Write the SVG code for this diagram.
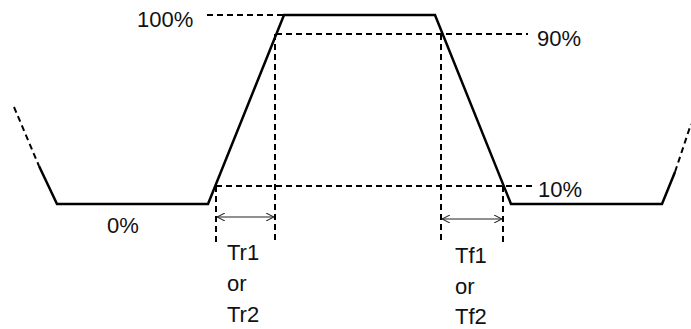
<svg xmlns="http://www.w3.org/2000/svg" width="691" height="329" viewBox="0 0 691 329">
<defs>
<style>
.w{fill:none;stroke:#000;stroke-width:2.5;stroke-linejoin:miter}
.d{fill:none;stroke:#000;stroke-width:2;stroke-dasharray:6 4}
.a{fill:none;stroke:#222;stroke-width:1.2}
text{font-family:"Liberation Sans",Arial,sans-serif;font-size:22px;fill:#111}
</style>
<marker id="ah" viewBox="0 0 10 10" refX="10" refY="5" markerWidth="8" markerHeight="8" markerUnits="userSpaceOnUse" orient="auto-start-reverse">
<path d="M0,0 L10,5 L0,10" fill="none" stroke="#222" stroke-width="1.3"/>
</marker>
</defs>
<rect width="691" height="329" fill="#fff"/>
<g id="waveform">
<path class="d" d="M14,107 L39,166"/>
<path class="w" d="M39,166 L57,204 L208,204 L284,15 L435,15 L511,204 L662,204 L675,172"/>
<path class="d" d="M675,172 L691,124"/>
</g>
<g id="connectors">
<path class="d" d="M207,15 H284"/>
<path class="d" d="M276,34 H528"/>
<path class="d" d="M216,186 H535"/>
<path class="d" d="M216,186 V244"/>
<path class="d" d="M275,34 V244"/>
<path class="d" d="M441,34 V244"/>
<path class="d" d="M503,186 V244"/>
<path class="a" d="M217,217 H274" marker-start="url(#ah)" marker-end="url(#ah)"/>
<path class="a" d="M442,219 H502" marker-start="url(#ah)" marker-end="url(#ah)"/>
</g>
<g id="labels">
<text x="137" y="27">100%</text>
<text x="537" y="46">90%</text>
<text x="538" y="197">10%</text>
<text x="107" y="233">0%</text>
<text x="227" y="260">Tr1</text>
<text x="227" y="291">or</text>
<text x="227" y="322">Tr2</text>
<text x="455" y="263">Tf1</text>
<text x="455" y="294">or</text>
<text x="455" y="324">Tf2</text>
</g>
</svg>
